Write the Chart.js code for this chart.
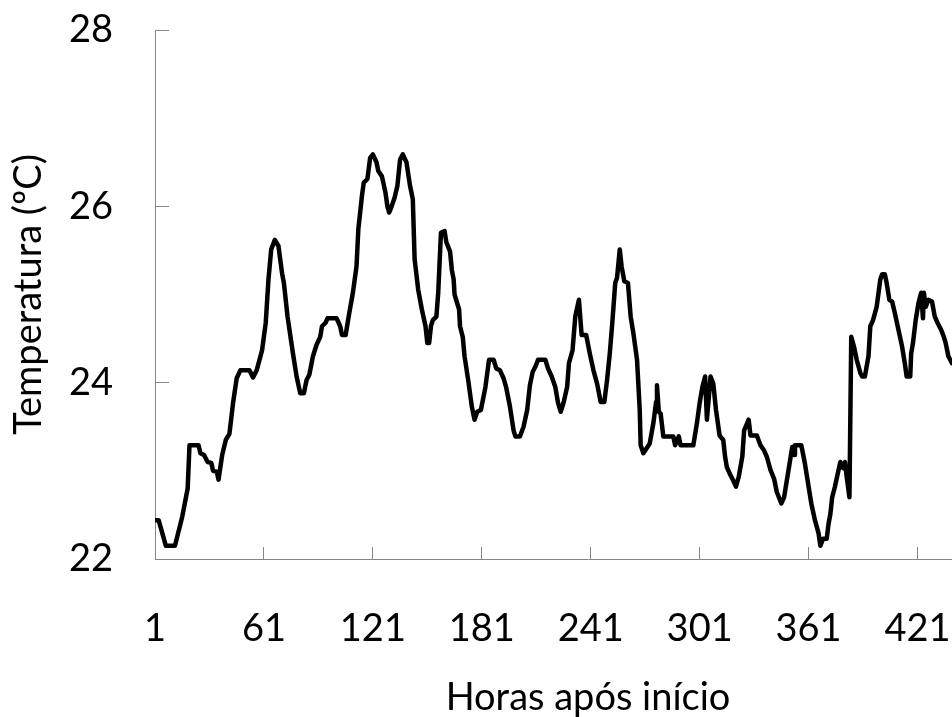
<!DOCTYPE html>
<html>
<head>
<meta charset="utf-8">
<script src="https://cdn.jsdelivr.net/npm/chart.js@4.4.1/dist/chart.umd.min.js"></script>
<style>
  html, body { margin: 0; padding: 0; background: #ffffff; overflow: hidden; }
  #wrap { position: absolute; left: 0; top: 0; width: 1021px; height: 717px; }
</style>
</head>
<body>
<div id="wrap"><canvas id="c" width="1021" height="717"></canvas></div>
<script>
// Hours (x) of the line's vertices
const hours = [
  1, 3, 7, 12, 16, 19, 20, 25, 26, 28, 30, 32, 33, 35, 36, 38, 40, 42, 44, 46, 48, 53, 55, 57, 60,
  62, 63.5, 65, 67, 69, 71, 72, 74, 77, 79, 81, 83, 84.5, 86, 88, 90, 92, 93, 95, 96, 101, 103, 104, 106,
  108, 110, 112, 113, 115, 116, 118, 119.5, 121, 123, 124, 126, 128, 129, 130, 131, 133, 134.5, 136, 137.5,
  139.5, 141.5, 143, 144, 146, 148, 150, 151, 152, 153, 154, 156, 157, 158.5, 160.5, 161.5, 163.5, 164.5,
  165.5, 166, 168.5, 169, 170.5, 171.5, 173.5, 175.5, 177, 178.5, 180.5, 183, 185, 187.5, 189, 191, 193,
  194.5, 196.5, 198.5, 199.5, 202, 204, 206, 207.5, 209, 210.5, 212, 216, 217.5, 219.5, 221.5, 223, 224.5,
  226, 228, 229, 231, 232.5, 234.5, 236, 238.5, 240.5, 242.5, 244.5, 246.5, 248.5, 250, 251.5, 253, 254.5,
  255.5, 257, 258, 259.5, 261.5, 263, 264.5, 266.5, 268, 268.5, 270, 273.5, 275.5, 277, 277.5, 278.5, 279.5,
  281, 286.5, 287.5, 289.5, 290.5, 297.5, 299.5, 301, 302.5, 304, 305, 307, 308.5, 310, 312, 314, 315, 316,
  318, 319.5, 321, 322.5, 324.5, 325.5, 328, 329, 332.5, 334.5, 336.5, 338, 340, 342, 343.5, 346, 347.5,
  349, 350.5, 352, 353, 353.5, 357, 359, 361, 362.5, 364.5, 366.5, 367.5, 369, 371, 372, 373, 374, 375.5,
  377.5, 378.5, 380, 381, 382, 383.5, 384.5, 386, 387.5, 389.5, 390.5, 392, 394, 395, 396.5, 398.5, 400.5,
  401.5, 403, 404, 405.5, 407, 408.5, 410.5, 412.5, 414, 415, 417, 417.5, 418.5, 420, 421.5, 423, 424,
  424.5, 425.5, 427, 429, 430.5, 432, 434, 435.5, 436.5, 438, 440
];
// Temperature (ºC) at each vertex
const temps = [
  22.44, 22.44, 22.15, 22.15, 22.48, 22.80, 23.29, 23.29, 23.20, 23.18, 23.10, 23.09, 23.00, 22.99, 22.90, 23.18, 23.35, 23.42, 23.77, 24.05, 24.14, 24.14, 24.06, 24.14, 24.37,
  24.68, 25.17, 25.51, 25.62, 25.55, 25.24, 25.13, 24.75, 24.33, 24.07, 23.88, 23.88, 24.03, 24.09, 24.30, 24.43, 24.52, 24.64, 24.68, 24.73, 24.73, 24.64, 24.54, 24.54,
  24.79, 25.02, 25.32, 25.74, 26.12, 26.27, 26.31, 26.55, 26.59, 26.50, 26.40, 26.34, 26.15, 26.00, 25.93, 25.98, 26.10, 26.23, 26.53, 26.59,
  26.50, 26.23, 26.08, 25.40, 25.05, 24.83, 24.64, 24.45, 24.45, 24.64, 24.71, 24.75, 25.02, 25.70, 25.72, 25.59, 25.49, 25.28,
  25.17, 25.00, 24.83, 24.64, 24.52, 24.30, 24.03, 23.73, 23.58, 23.67, 23.69, 23.95, 24.26, 24.26, 24.16, 24.14, 24.05,
  23.94, 23.73, 23.46, 23.39, 23.39, 23.50, 23.69, 23.97, 24.12, 24.18, 24.26, 24.26, 24.16, 24.07, 23.95, 23.77, 23.67,
  23.77, 23.95, 24.22, 24.37, 24.75, 24.94, 24.54, 24.54, 24.33, 24.14, 23.99, 23.78, 23.78, 24.03, 24.33, 24.71, 25.13,
  25.19, 25.51, 25.32, 25.15, 25.13, 24.75, 24.56, 24.26, 23.69, 23.29, 23.20, 23.31, 23.54, 23.78, 23.97, 23.67, 23.65,
  23.39, 23.39, 23.29, 23.39, 23.29, 23.29, 23.54, 23.77, 23.95, 24.07, 23.58, 24.07, 23.99, 23.69, 23.40, 23.35, 23.16, 23.04,
  22.95, 22.89, 22.82, 22.93, 23.16, 23.46, 23.58, 23.40, 23.40, 23.29, 23.23, 23.16, 23.01, 22.91, 22.76, 22.63, 22.70,
  22.89, 23.08, 23.27, 23.18, 23.29, 23.29, 23.08, 22.82, 22.63, 22.44, 22.29, 22.15, 22.23, 22.23, 22.40, 22.51, 22.70, 22.82,
  23.01, 23.10, 23.03, 23.10, 22.93, 22.70, 24.52, 24.41, 24.26, 24.11, 24.07, 24.07, 24.30, 24.64, 24.71, 24.86, 25.17,
  25.23, 25.23, 25.13, 24.94, 24.92, 24.79, 24.60, 24.41, 24.22, 24.07, 24.07, 24.33, 24.45, 24.71, 24.90, 25.02, 24.73,
  25.02, 24.86, 24.94, 24.92, 24.75, 24.68, 24.60, 24.52, 24.45, 24.30, 24.22
];
const tickHours = [1, 61, 121, 181, 241, 301, 361, 421];
const tempTicks = [22, 24, 26, 28];

const AXIS = '#868686';
const FONT = 'Lato, "Open Sans", sans-serif';

new Chart(document.getElementById('c'), {
  type: 'line',
  data: {
    datasets: [{
      data: hours.map((h, i) => ({ x: h, y: temps[i] })),
      borderColor: '#000000',
      borderWidth: 4.5,
      tension: 0,
      pointRadius: 0,
      borderJoinStyle: 'round',
      borderCapStyle: 'round',
      fill: false
    }]
  },
  options: {
    responsive: false,
    animation: false,
    layout: { padding: { top: 30, right: 0, bottom: 0, left: 0 } },
    plugins: { legend: { display: false }, tooltip: { enabled: false } },
    scales: {
      x: {
        type: 'linear',
        min: 1,
        max: 478,
        afterBuildTicks: s => { s.ticks = tickHours.map(v => ({ value: v })); },
        ticks: {
          padding: 59, color: '#000000', autoSkip: false, maxRotation: 0,
          font: { family: FONT, size: 38 },
          callback: v => String(v)
        },
        grid: { drawOnChartArea: false, drawTicks: true, tickLength: -12, color: AXIS, lineWidth: 1 },
        border: { display: true, color: AXIS, width: 1 },
        title: {
          display: true, text: 'Horas após início', color: '#000000',
          font: { family: FONT, size: 38, lineHeight: 1 }, padding: { top: 0, bottom: 0 }
        },
        afterFit: s => { s.height = 158; s.paddingLeft = 0; s.paddingRight = 0; }
      },
      y: {
        type: 'linear',
        min: 22,
        max: 28,
        afterBuildTicks: s => { s.ticks = tempTicks.map(v => ({ value: v })); },
        ticks: {
          padding: 56, color: '#000000',
          font: { family: FONT, size: 38 },
          callback: v => String(v)
        },
        grid: { drawOnChartArea: false, drawTicks: true, tickLength: -14, color: AXIS, lineWidth: 1 },
        border: { display: true, color: AXIS, width: 1 },
        title: {
          display: true, text: 'Temperatura (ºC)', color: '#000000',
          font: { family: FONT, size: 38, lineHeight: 1 }, padding: { top: 10, bottom: 0 }
        },
        afterFit: s => { s.width = 155; s.paddingTop = 0; s.paddingBottom = 0; }
      }
    }
  }
});
</script>
</body>
</html>
